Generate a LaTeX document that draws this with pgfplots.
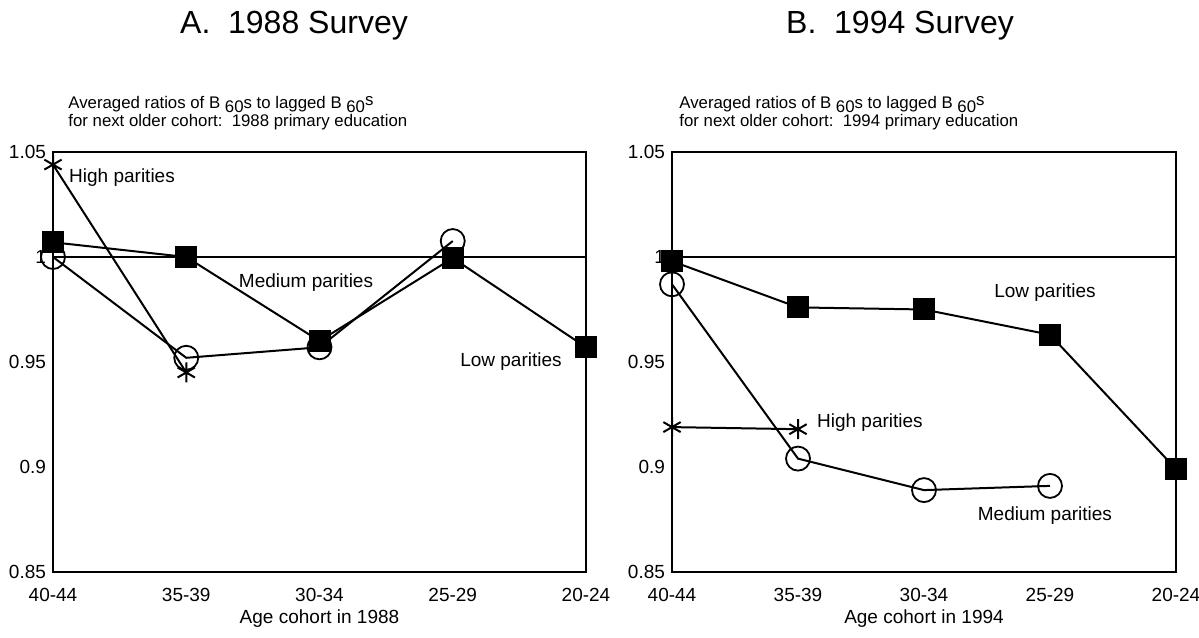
\documentclass[border=0pt]{standalone}
\usepackage{fontspec}
\setmainfont{Liberation Sans}
\usepackage{pgfplots}
\pgfplotsset{compat=1.18}
\tikzset{ann/.style={font=\fontsize{9.5}{11}\selectfont}}
\begin{document}
\begin{tikzpicture}[x=1pt,y=1pt]
\path[use as bounding box] (0,0) rectangle (599.5,318.5);
\pgfplotsset{
  panel/.style={
    scale only axis, height=210pt, ymin=0.85, ymax=1.05, xmin=0, xmax=4,
    ytick={0.85,0.9,0.95,1,1.05}, yticklabels={0.85,0.9,0.95,1,1.05},
    xtick={0,1,2,3,4}, xticklabels={40-44,35-39,30-34,25-29,20-24},
    major tick length=0pt, axis line style={line width=1.2pt},
    tick label style={font=\fontsize{9.5}{11}\selectfont},
    xticklabel style={yshift=-4.5pt},
    label style={font=\fontsize{9.5}{11}\selectfont},
    xlabel style={yshift=3pt},
    clip=false, anchor=south west,
  },
  low/.style={black, line width=1pt, mark=square*, mark size=5pt, mark options={solid, fill=black}},
  med/.style={black, line width=1pt, mark=o, mark size=6pt, mark options={line width=0.9pt}},
  high/.style={black, line width=1pt, mark=asterisk, mark size=5pt},
  ref/.style={black, line width=0.7pt, no markers},
}
\begin{axis}[panel, width=266.5pt, at={(26.5pt,32.5pt)}, xlabel={Age cohort in 1988}]
\addplot[ref] coordinates {(0,1) (4,1)};
\addplot[high] coordinates {(0,1.044) (1,0.945)};
\addplot[med] coordinates {(0,1.000) (1,0.952) (2,0.957) (3,1.0076)};
\addplot[low] coordinates {(0,1.007) (1,1.000) (2,0.960) (3,0.9995) (4,0.957)};
\node[ann] at (axis cs:0.518,1.0376) {High parities};
\node[ann] at (axis cs:1.899,0.988) {Medium parities};
\node[ann] at (axis cs:3.437,0.950) {Low parities};
\end{axis}
\begin{axis}[panel, width=252pt, at={(336pt,32.5pt)}, xlabel={Age cohort in 1994}]
\addplot[ref] coordinates {(0,1) (4,1)};
\addplot[high] coordinates {(0,0.919) (1,0.918)};
\addplot[med] coordinates {(0,0.987) (1,0.904) (2,0.889) (3,0.891)};
\addplot[low] coordinates {(0,0.998) (1,0.976) (2,0.975) (3,0.963) (4,0.899)};
\node[ann] at (axis cs:2.96,0.983) {Low parities};
\node[ann] at (axis cs:1.571,0.921) {High parities};
\node[ann] at (axis cs:2.96,0.877) {Medium parities};
\end{axis}
\node[font=\fontsize{16}{19}\selectfont] at (147,305.5) {A.\ \ 1988 Survey};
\node[font=\fontsize{16}{19}\selectfont] at (450,305.5) {B.\ \ 1994 Survey};
\node[anchor=north west, align=left, inner sep=0pt, font=\fontsize{8.4}{9.2}\selectfont] at (34,270.5)
  {Averaged ratios of B \raisebox{-0.4ex}{60}s to lagged B \raisebox{-0.4ex}{60}\raisebox{0.3ex}{s}\\for next older cohort:\ \ 1988 primary education};
\node[anchor=north west, align=left, inner sep=0pt, font=\fontsize{8.4}{9.2}\selectfont] at (339.5,270.5)
  {Averaged ratios of B \raisebox{-0.4ex}{60}s to lagged B \raisebox{-0.4ex}{60}\raisebox{0.3ex}{s}\\for next older cohort:\ \ 1994 primary education};
\end{tikzpicture}
\end{document}
